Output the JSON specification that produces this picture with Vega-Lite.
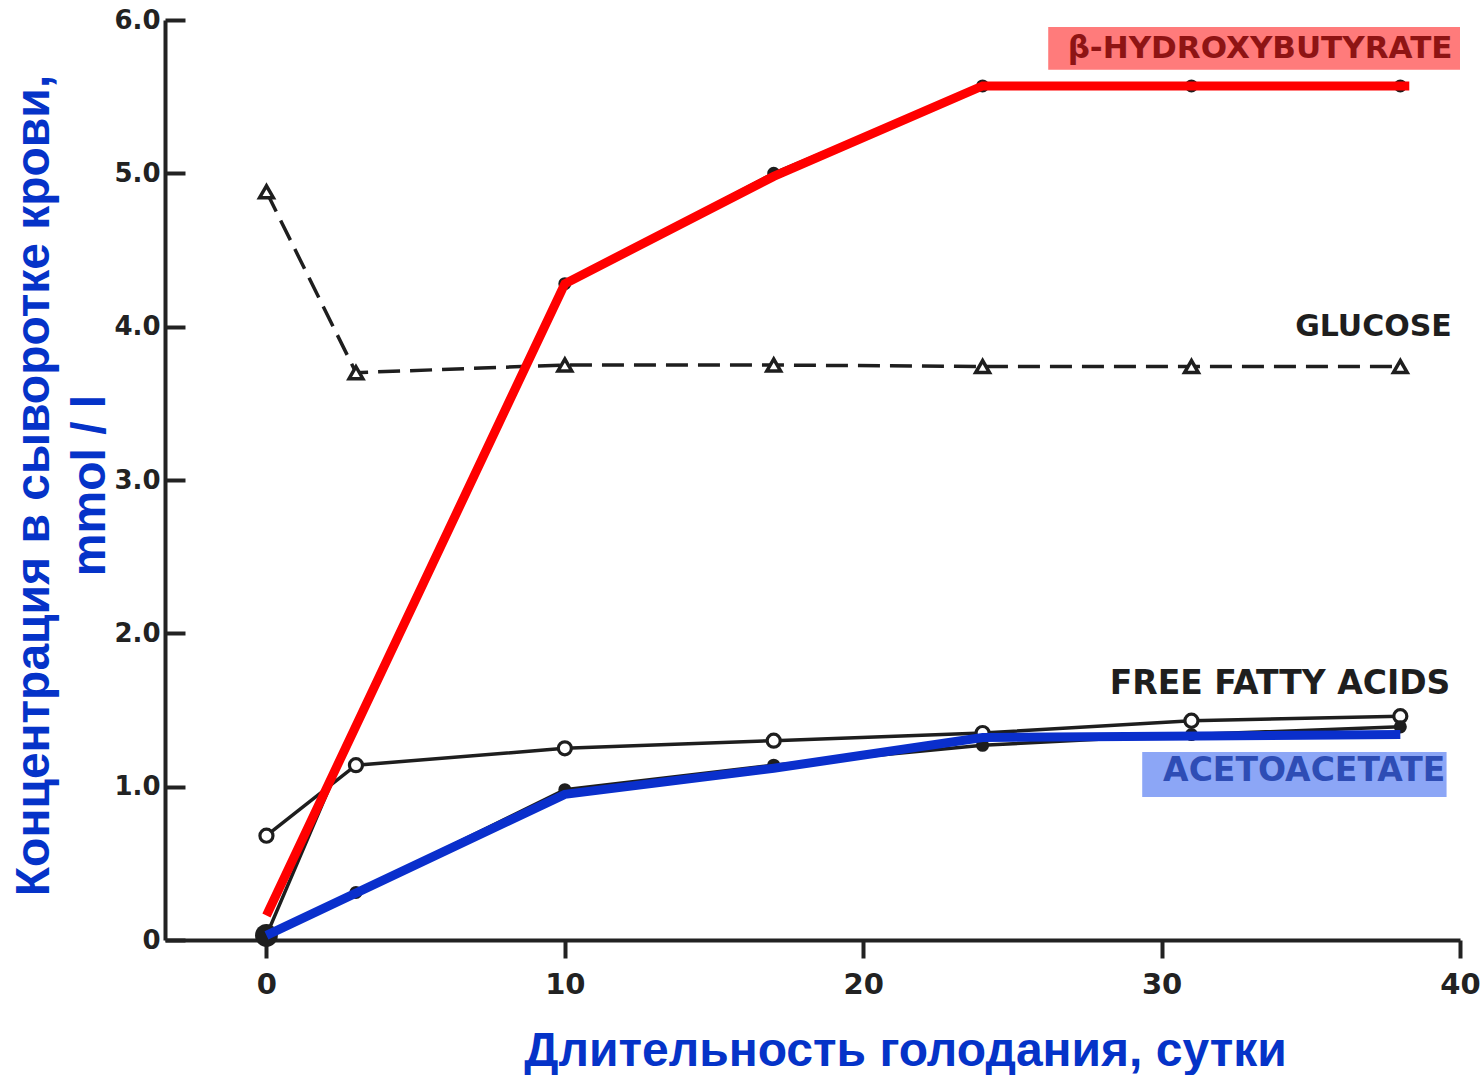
{
  "$schema": "https://vega.github.io/schema/vega-lite/v6.json",
  "width": 1295,
  "height": 920,
  "autosize": {"type": "none"},
  "padding": {"left": 165, "top": 20, "right": 24, "bottom": 135},
  "background": "white",
  "config": {"view": {"stroke": null}},
  "datasets": {
    "series": [
      {"series": "Glucose", "day": 0, "value": 4.88},
      {"series": "Glucose", "day": 3, "value": 3.7},
      {"series": "Glucose", "day": 10, "value": 3.75},
      {"series": "Glucose", "day": 17, "value": 3.75},
      {"series": "Glucose", "day": 24, "value": 3.74},
      {"series": "Glucose", "day": 31, "value": 3.74},
      {"series": "Glucose", "day": 38, "value": 3.74},
      {"series": "FFA", "day": 0, "value": 0.68},
      {"series": "FFA", "day": 3, "value": 1.14},
      {"series": "FFA", "day": 10, "value": 1.25},
      {"series": "FFA", "day": 17, "value": 1.3},
      {"series": "FFA", "day": 24, "value": 1.35},
      {"series": "FFA", "day": 31, "value": 1.43},
      {"series": "FFA", "day": 38, "value": 1.46},
      {"series": "BHB", "day": 0, "value": 0.03},
      {"series": "BHB", "day": 3, "value": 1.4},
      {"series": "BHB", "day": 10, "value": 4.28},
      {"series": "BHB", "day": 17, "value": 5.0},
      {"series": "BHB", "day": 24, "value": 5.57},
      {"series": "BHB", "day": 31, "value": 5.57},
      {"series": "BHB", "day": 38, "value": 5.57},
      {"series": "AcAc", "day": 0, "value": 0.03},
      {"series": "AcAc", "day": 3, "value": 0.31},
      {"series": "AcAc", "day": 10, "value": 0.98},
      {"series": "AcAc", "day": 17, "value": 1.14},
      {"series": "AcAc", "day": 24, "value": 1.27},
      {"series": "AcAc", "day": 31, "value": 1.34},
      {"series": "AcAc", "day": 38, "value": 1.39}
    ],
    "overlay": [
      {"series": "BHB", "day": 0, "value": 0.16},
      {"series": "BHB", "day": 10, "value": 4.28},
      {"series": "BHB", "day": 17, "value": 4.98},
      {"series": "BHB", "day": 24, "value": 5.57},
      {"series": "BHB", "day": 38.3, "value": 5.57},
      {"series": "AcAc", "day": 0, "value": 0.03},
      {"series": "AcAc", "day": 10, "value": 0.95},
      {"series": "AcAc", "day": 17, "value": 1.12},
      {"series": "AcAc", "day": 24, "value": 1.32},
      {"series": "AcAc", "day": 38, "value": 1.34}
    ],
    "boxes": [
      {"series": "BHB", "x1": 26.2, "x2": 40.0, "y1": 5.955, "y2": 5.675},
      {"series": "AcAc", "x1": 29.35, "x2": 39.55, "y1": 1.226, "y2": 0.933}
    ],
    "labels": [
      {"series": "BHB", "text": "β-HYDROXYBUTYRATE", "day": 33.3, "value": 5.81},
      {"series": "Glucose", "text": "GLUCOSE", "day": 37.1, "value": 4.0},
      {"series": "FFA", "text": "FREE FATTY ACIDS", "day": 33.97, "value": 1.67},
      {"series": "AcAc", "text": "ACETOACETATE", "day": 34.78, "value": 1.1}
    ]
  },
  "layer": [
    {
      "data": {"name": "series"},
      "transform": [{"filter": "datum.series == 'Glucose'"}],
      "mark": {"type": "line", "color": "#1e1e1e", "strokeWidth": 3.5, "strokeDash": [22, 10]},
      "encoding": {
        "x": {
          "field": "day", "type": "quantitative",
          "scale": {"domain": [-3.4, 40], "nice": false, "zero": false},
          "axis": {
            "values": [0, 10, 20, 30, 40], "format": "d", "grid": false, "labelFlush": false,
            "domainColor": "#222", "domainWidth": 4, "tickColor": "#222", "tickWidth": 4, "tickSize": 18,
            "labelFont": "DejaVu Sans", "labelFontSize": 29, "labelFontWeight": "bold", "labelColor": "#222", "labelPadding": 12,
            "title": "Длительность голодания, сутки",
            "titleFont": "Liberation Sans", "titleFontSize": 48, "titleFontWeight": "bold", "titleColor": "#0533C8",
            "titleX": 740, "titleY": 125, "titleAlign": "center", "titleBaseline": "alphabetic"
          }
        },
        "y": {
          "field": "value", "type": "quantitative",
          "scale": {"domain": [0, 6], "nice": false},
          "axis": {
            "values": [0, 1, 2, 3, 4, 5, 6], "grid": false, "labelFlush": false,
            "labelExpr": "datum.value == 0 ? '0' : format(datum.value, '.1f')",
            "domainColor": "#222", "domainWidth": 4, "tickColor": "#222", "tickWidth": 4, "tickSize": -20,
            "labelFont": "DejaVu Sans", "labelFontSize": 26, "labelFontWeight": "bold", "labelColor": "#222", "labelPadding": 25,
            "title": ["Концентрация в сыворотке крови,", "mmol / l"],
            "titleFont": "Liberation Sans", "titleFontSize": 48, "titleFontWeight": "bold", "titleColor": "#0533C8",
            "titleX": -155, "titleY": 465, "titleAlign": "center", "titleBaseline": "top", "titleAngle": -90, "titleLineHeight": 56
          }
        }
      }
    },
    {
      "data": {"name": "series"},
      "transform": [{"filter": "datum.series == 'Glucose'"}],
      "mark": {"type": "point", "shape": "triangle-up", "size": 190, "filled": true, "opacity": 1, "fill": "white", "stroke": "#1e1e1e", "strokeWidth": 3.5},
      "encoding": {"x": {"field": "day", "type": "quantitative"}, "y": {"field": "value", "type": "quantitative"}}
    },
    {
      "data": {"name": "series"},
      "transform": [{"filter": "datum.series == 'FFA'"}],
      "mark": {"type": "line", "color": "#1e1e1e", "strokeWidth": 3.5},
      "encoding": {"x": {"field": "day", "type": "quantitative"}, "y": {"field": "value", "type": "quantitative"}}
    },
    {
      "data": {"name": "series"},
      "transform": [{"filter": "datum.series == 'FFA'"}],
      "mark": {"type": "point", "shape": "circle", "size": 170, "filled": true, "opacity": 1, "fill": "white", "stroke": "#1e1e1e", "strokeWidth": 3.2},
      "encoding": {"x": {"field": "day", "type": "quantitative"}, "y": {"field": "value", "type": "quantitative"}}
    },
    {
      "data": {"name": "series"},
      "transform": [{"filter": "datum.series == 'BHB' || datum.series == 'AcAc'"}],
      "mark": {"type": "line", "color": "#1e1e1e", "strokeWidth": 3.5},
      "encoding": {"x": {"field": "day", "type": "quantitative"}, "y": {"field": "value", "type": "quantitative"}, "detail": {"field": "series"}}
    },
    {
      "data": {"name": "series"},
      "transform": [{"filter": "(datum.series == 'BHB' && datum.day > 3) || (datum.series == 'AcAc' && datum.day > 0)"}],
      "mark": {"type": "point", "shape": "circle", "size": 170, "filled": true, "opacity": 1, "color": "#1e1e1e"},
      "encoding": {"x": {"field": "day", "type": "quantitative"}, "y": {"field": "value", "type": "quantitative"}}
    },
    {
      "data": {"name": "series"},
      "transform": [{"filter": "datum.series == 'AcAc' && datum.day == 0"}],
      "mark": {"type": "point", "shape": "circle", "size": 520, "filled": true, "opacity": 1, "color": "#1e1e1e"},
      "encoding": {"x": {"field": "day", "type": "quantitative"}, "y": {"field": "value", "type": "quantitative"}}
    },
    {
      "data": {"name": "overlay"},
      "transform": [{"filter": "datum.series == 'BHB'"}],
      "mark": {"type": "line", "color": "#FF0000", "strokeWidth": 9, "strokeCap": "butt"},
      "encoding": {"x": {"field": "day", "type": "quantitative"}, "y": {"field": "value", "type": "quantitative"}}
    },
    {
      "data": {"name": "overlay"},
      "transform": [{"filter": "datum.series == 'AcAc'"}],
      "mark": {"type": "line", "color": "#0A2FCC", "strokeWidth": 9, "strokeCap": "butt"},
      "encoding": {"x": {"field": "day", "type": "quantitative"}, "y": {"field": "value", "type": "quantitative"}}
    },
    {
      "data": {"name": "boxes"},
      "mark": {"type": "rect", "opacity": 1},
      "encoding": {
        "x": {"field": "x1", "type": "quantitative"},
        "x2": {"field": "x2"},
        "y": {"field": "y1", "type": "quantitative"},
        "y2": {"field": "y2"},
        "fill": {"field": "series", "type": "nominal", "scale": {"domain": ["BHB", "AcAc"], "range": ["#FF7B7B", "#8CA6F6"]}, "legend": null}
      }
    },
    {
      "data": {"name": "labels"},
      "transform": [{"filter": "datum.series == 'BHB'"}],
      "mark": {"type": "text", "font": "DejaVu Sans", "fontSize": 31, "fontWeight": "bold", "align": "center", "baseline": "middle", "color": "#8E1414"},
      "encoding": {"x": {"field": "day", "type": "quantitative"}, "y": {"field": "value", "type": "quantitative"}, "text": {"field": "text"}}
    },
    {
      "data": {"name": "labels"},
      "transform": [{"filter": "datum.series == 'Glucose'"}],
      "mark": {"type": "text", "font": "DejaVu Sans", "fontSize": 30, "fontWeight": "bold", "align": "center", "baseline": "middle", "color": "#1e1e1e"},
      "encoding": {"x": {"field": "day", "type": "quantitative"}, "y": {"field": "value", "type": "quantitative"}, "text": {"field": "text"}}
    },
    {
      "data": {"name": "labels"},
      "transform": [{"filter": "datum.series == 'FFA'"}],
      "mark": {"type": "text", "font": "DejaVu Sans", "fontSize": 33, "fontWeight": "bold", "align": "center", "baseline": "middle", "color": "#1e1e1e"},
      "encoding": {"x": {"field": "day", "type": "quantitative"}, "y": {"field": "value", "type": "quantitative"}, "text": {"field": "text"}}
    },
    {
      "data": {"name": "labels"},
      "transform": [{"filter": "datum.series == 'AcAc'"}],
      "mark": {"type": "text", "font": "DejaVu Sans", "fontSize": 33, "fontWeight": "bold", "align": "center", "baseline": "middle", "color": "#2E4DB5"},
      "encoding": {"x": {"field": "day", "type": "quantitative"}, "y": {"field": "value", "type": "quantitative"}, "text": {"field": "text"}}
    }
  ]
}
